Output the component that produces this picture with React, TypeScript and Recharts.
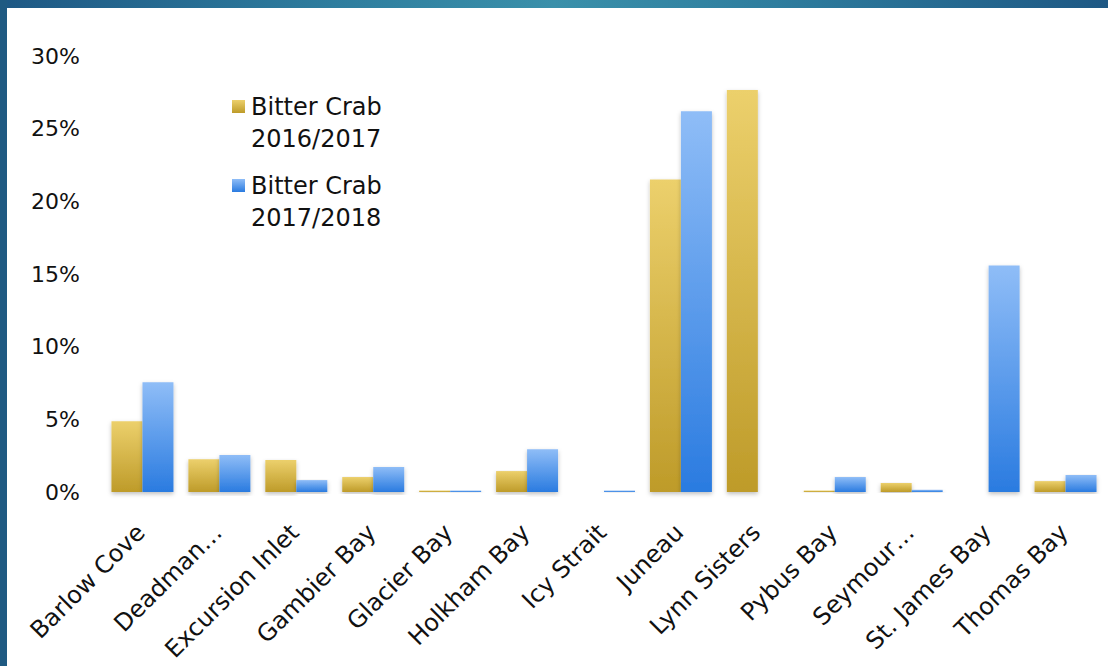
import React from "react";
import { BarChart, Bar, XAxis, YAxis } from "recharts";

const categories = [
  "Barlow Cove",
  "Deadman…",
  "Excursion Inlet",
  "Gambier Bay",
  "Glacier Bay",
  "Holkham Bay",
  "Icy Strait",
  "Juneau",
  "Lynn Sisters",
  "Pybus Bay",
  "Seymour…",
  "St. James Bay",
  "Thomas Bay",
];
const crab2016 = [4.87, 2.26, 2.2, 1.03, 0.1, 1.44, 0, 21.5, 27.66, 0.1, 0.62, 0, 0.75];
const crab2017 = [7.55, 2.54, 0.82, 1.72, 0.1, 2.95, 0.1, 26.2, 0, 1.03, 0.15, 15.58, 1.17];
const seriesLine1 = ["Bitter Crab", "Bitter Crab"];
const seriesLine2 = ["2016/2017", "2017/2018"];
const yTicks = [0, 5, 10, 15, 20, 25, 30];

const data = categories.map((c, i) => ({ name: c, a: crab2016[i] / 100, b: crab2017[i] / 100 }));

const FONT = "'DejaVu Sans', sans-serif";

const XTick = (props: any) => {
  const { x, y, payload } = props;
  const ax = x + 4;
  const ay = y + 34;
  return (
    <text
      x={ax}
      y={ay}
      transform={`rotate(-45 ${ax} ${ay})`}
      textAnchor="end"
      fontSize={24}
      fontFamily={FONT}
      fill="#111"
    >
      {payload.value}
    </text>
  );
};

const LegendBox = () => (
  <svg width={220} height={150} style={{ position: "absolute", left: 225, top: 90, display: "block" }}>
    <defs>
      <linearGradient id="lgY" x1="0" y1="0" x2="0" y2="1">
        <stop offset="0%" stopColor="#ECD06C" />
        <stop offset="100%" stopColor="#BE9B29" />
      </linearGradient>
      <linearGradient id="lgB" x1="0" y1="0" x2="0" y2="1">
        <stop offset="0%" stopColor="#8FBDF7" />
        <stop offset="100%" stopColor="#2A7BE0" />
      </linearGradient>
    </defs>
    <rect x={7} y={10} width={13} height={13} fill="url(#lgY)" />
    <text x={26} y={25} fontSize={24} fontFamily={FONT} fill="#111">{seriesLine1[0]}</text>
    <text x={26} y={57} fontSize={24} fontFamily={FONT} fill="#111">{seriesLine2[0]}</text>
    <rect x={7} y={89} width={13} height={13} fill="url(#lgB)" />
    <text x={26} y={104} fontSize={24} fontFamily={FONT} fill="#111">{seriesLine1[1]}</text>
    <text x={26} y={136} fontSize={24} fontFamily={FONT} fill="#111">{seriesLine2[1]}</text>
  </svg>
);

export default function App() {
  return (
    <div style={{ position: "absolute", left: 0, top: 0, width: 1108, height: 666, background: "#fff", overflow: "hidden" }}>
      <div style={{ position: "absolute", left: 0, top: 0 }}>
        <BarChart
          width={1108}
          height={666}
          data={data}
          margin={{ top: 56, right: 4, bottom: 0, left: 14 }}
          barCategoryGap="9.7%"
          barGap={0}
        >
          <defs>
            <linearGradient id="gY" x1="0" y1="0" x2="0" y2="1">
              <stop offset="0%" stopColor="#ECD06C" />
              <stop offset="100%" stopColor="#BE9B29" />
            </linearGradient>
            <linearGradient id="gB" x1="0" y1="0" x2="0" y2="1">
              <stop offset="0%" stopColor="#8FBDF7" />
              <stop offset="100%" stopColor="#2A7BE0" />
            </linearGradient>
            <filter id="sh" x="-20%" y="-5%" width="140%" height="115%">
              <feDropShadow dx="0" dy="2" stdDeviation="2" floodColor="#000" floodOpacity="0.25" />
            </filter>
          </defs>
          <XAxis
            dataKey="name"
            axisLine={false}
            tickLine={false}
            interval={0}
            tick={<XTick />}
            height={174}
          />
          <YAxis
            width={90}
            domain={[0, 0.3]}
            ticks={yTicks.map((t) => t / 100)}
            tickFormatter={(v: number) => `${Math.round(v * 100)}%`}
            axisLine={false}
            tickLine={false}
            tickSize={0}
            tickMargin={24}
            tick={{ fontSize: 22, fontFamily: FONT, fill: "#111" }}
          />
          <Bar dataKey="a" fill="url(#gY)" isAnimationActive={false} style={{ filter: "url(#sh)" }} />
          <Bar dataKey="b" fill="url(#gB)" isAnimationActive={false} style={{ filter: "url(#sh)" }} />
        </BarChart>
      </div>
      <LegendBox />
      <div
        style={{
          position: "absolute",
          left: 0,
          top: 0,
          width: 1108,
          height: 8,
          background: "linear-gradient(90deg, #1E5884 0%, #2E7D9E 30%, #3A90AA 50%, #2E7D9E 70%, #1E5884 100%)",
        }}
      />
      <div style={{ position: "absolute", left: 0, top: 0, width: 7, height: 666, background: "#1F5A82" }} />
    </div>
  );
}
